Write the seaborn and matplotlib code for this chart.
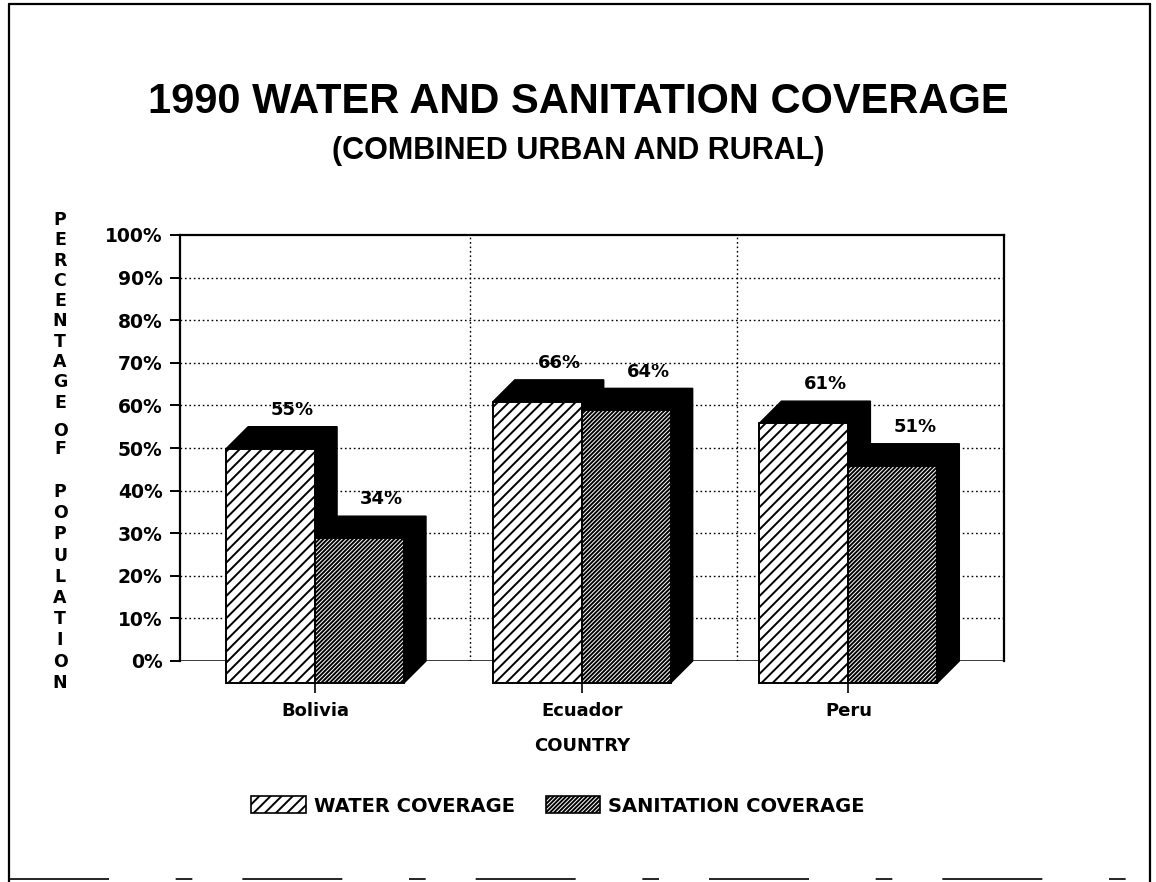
import numpy as np
import pandas as pd
import matplotlib
matplotlib.use("Agg")
import matplotlib.pyplot as plt
import seaborn as sns
from matplotlib.patches import Patch, Polygon
from matplotlib.lines import Line2D

# ------------------------------------------------------
# Data
# ------------------------------------------------------

countries = ["Bolivia", "Ecuador", "Peru"]
series = ["WATER COVERAGE", "SANITATION COVERAGE"]
water = [55, 66, 61]
sanitation = [34, 64, 51]
y_ticks = [0, 10, 20, 30, 40, 50, 60, 70, 80, 90, 100]

df = pd.DataFrame({
    "country": countries * 2,
    "series": [series[0]] * 3 + [series[1]] * 3,
    "coverage": water + sanitation,
})

# ------------------------------------------------------
# Style
# ------------------------------------------------------

sns.set_theme(
    style="white",
    rc={
        "text.color": "black",
        "axes.labelcolor": "black",
        "xtick.color": "black",
        "ytick.color": "black",
    },
)
plt.rcParams["font.family"] = ["DejaVu Sans"]
plt.rcParams["hatch.linewidth"] = 1.4

hatches = ["///", "////////"]

# depth of the fake 3D extrusion (x in category units, y in %)
DX = 0.0825
DY = 5.16

fig = plt.figure(figsize=(11.56, 8.82), dpi=100)
ax = fig.add_axes([180 / 1156, 1 - 661 / 882, 824 / 1156, 426 / 882])

sns.barplot(
    data=df,
    x="country",
    y="coverage",
    hue="series",
    palette=["white", "white"],
    edgecolor="black",
    linewidth=1.4,
    width=0.667,
    errorbar=None,
    legend=False,
    ax=ax,
)

ax.set_xlim(-0.589, 2.501)
ax.set_ylim(0, 100)

# ------------------------------------------------------
# Turn flat bars into 3D blocks
# ------------------------------------------------------

for container, hatch in zip(ax.containers, hatches):
    for bar in container:
        value = bar.get_height()
        bx0 = bar.get_x()
        bx1 = bx0 + bar.get_width()

        # front face, moved forward (left / down)
        bar.set_x(bx0 - DX)
        bar.set_y(-DY)
        bar.set_hatch(hatch)
        bar.set_zorder(3)
        bar.set_clip_on(False)

        fx0, fx1 = bx0 - DX, bx1 - DX
        fy0, fy1 = -DY, value - DY

        side = Polygon(
            [
                (fx0, fy1),
                (bx0, value),
                (bx1, value),
                (bx1, 0),
                (fx1, fy0),
                (fx1, fy1),
            ],
            closed=True,
            facecolor="black",
            edgecolor="black",
            linewidth=1,
            zorder=2,
            clip_on=False,
        )
        ax.add_patch(side)

        ax.text(
            (bx0 + bx1) / 2,
            value + 1.8,
            f"{value:.0f}%",
            ha="center",
            va="bottom",
            fontsize=13,
            fontweight="bold",
            zorder=4,
        )

# ------------------------------------------------------
# Axes, grid, ticks
# ------------------------------------------------------

dots = (0, (1.2, 2.0))

for y in y_ticks[1:-1]:
    ax.axhline(y, color="black", linestyle=dots, linewidth=1, zorder=0)

for x in [0.5, 1.5]:
    ax.axvline(x, color="black", linestyle=dots, linewidth=1, zorder=0)

ax.axhline(0, color="black", linewidth=1.8, zorder=1)

for name in ["left", "top", "right"]:
    ax.spines[name].set_color("black")
    ax.spines[name].set_linewidth(1.6)

ax.spines["bottom"].set_position(("data", -DY))
ax.spines["bottom"].set_color("none")

ax.set_yticks(y_ticks, labels=[f"{v}%" for v in y_ticks])
ax.set_xticks(np.arange(len(countries)) - DX, labels=countries)

ax.tick_params(
    axis="y",
    direction="out",
    length=7.5,
    width=1.4,
    color="black",
    pad=5,
    labelsize=13.5,
    left=True,
)
ax.tick_params(
    axis="x",
    direction="out",
    length=7.5,
    width=1.2,
    color="black",
    pad=6,
    labelsize=13,
    bottom=True,
)

for label in ax.get_xticklabels() + ax.get_yticklabels():
    label.set_fontweight("bold")

ax.set_xlabel("")
ax.set_ylabel("")

# ------------------------------------------------------
# Titles and labels
# ------------------------------------------------------

fig.text(
    0.5,
    1 - 102 / 882,
    "1990 WATER AND SANITATION COVERAGE",
    ha="center",
    va="center",
    fontsize=30,
    fontweight="bold",
    family="Liberation Sans",
)

fig.text(
    0.5,
    1 - 151 / 882,
    "(COMBINED URBAN AND RURAL)",
    ha="center",
    va="center",
    fontsize=22,
    fontweight="bold",
    family="Liberation Sans",
)

fig.text(
    582 / 1156,
    1 - 746 / 882,
    "COUNTRY",
    ha="center",
    va="center",
    fontsize=13,
    fontweight="bold",
)

# stacked y axis title, one letter per row
ylabel_words = ["PERCENTAGE", "OF", "POPULATION"]
word_tops = [220, 431, 492]
word_steps = [20.3, 18, 21.2]
for word, top, step in zip(ylabel_words, word_tops, word_steps):
    for i, letter in enumerate(word):
        fig.text(
            60 / 1156,
            1 - (top + i * step) / 882,
            letter,
            ha="center",
            va="center",
            fontsize=12.5,
            fontweight="bold",
        )

# ------------------------------------------------------
# Legend
# ------------------------------------------------------

handles = [
    Patch(facecolor="white", edgecolor="black", hatch=h, linewidth=1.2)
    for h in hatches
]

legend = fig.legend(
    handles,
    series,
    loc="center",
    bbox_to_anchor=(558 / 1156, 1 - 806 / 882),
    ncol=2,
    frameon=False,
    handlelength=2.8,
    handleheight=0.95,
    handletextpad=0.4,
    columnspacing=1.6,
    prop={"weight": "bold", "size": 14},
)

# ------------------------------------------------------
# Page frame
# ------------------------------------------------------

frame_kw = dict(color="black", linewidth=1.6, transform=fig.transFigure)
fig.add_artist(Line2D([9 / 1156, 9 / 1156], [0, 1 - 4 / 882], **frame_kw))
fig.add_artist(Line2D([9 / 1156, 1150 / 1156], [1 - 4 / 882, 1 - 4 / 882], **frame_kw))
fig.add_artist(Line2D([1150 / 1156, 1150 / 1156], [1 - 4 / 882, 0], **frame_kw))
fig.add_artist(
    Line2D(
        [9 / 1156, 1150 / 1156],
        [1 - 879 / 882, 1 - 879 / 882],
        color="black",
        linewidth=1.2,
        linestyle=(0, (60, 40, 10, 30)),
        transform=fig.transFigure,
    )
)

fig.savefig("out.png", dpi=100)
plt.close(fig)
